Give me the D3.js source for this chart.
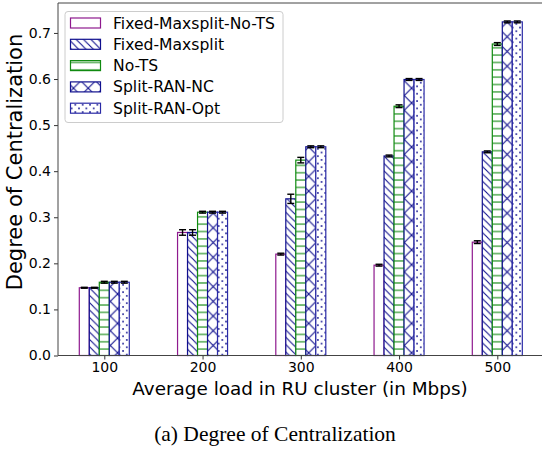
<!DOCTYPE html>
<html>
<head>
<meta charset="utf-8">
<script src="https://cdn.jsdelivr.net/npm/d3@7"></script>
<style>
  body { margin: 0; background: #fff; }
  svg { display: block; font-family: "DejaVu Sans", sans-serif; }
</style>
</head>
<body>
<svg id="chart" width="542" height="451"></svg>
<script>
// loads (Mbps) on the x axis
const categories = [100, 200, 300, 400, 500];
const seriesNames = ['Fixed-Maxsplit-No-TS', 'Fixed-Maxsplit', 'No-TS', 'Split-RAN-NC', 'Split-RAN-Opt'];

const fixedNoTS = [0.147, 0.267, 0.220, 0.196, 0.246];
const fixedMaxsplit = [0.147, 0.267, 0.340, 0.433, 0.442];
const noTS = [0.159, 0.311, 0.424, 0.541, 0.676];
const ranNC = [0.159, 0.311, 0.453, 0.599, 0.724];
const ranOpt = [0.159, 0.311, 0.453, 0.599, 0.724];

const fixedNoTSErr = [0.001, 0.006, 0.002, 0.002, 0.003];
const fixedMaxsplitErr = [0.001, 0.006, 0.010, 0.002, 0.002];
const noTSErr = [0.002, 0.002, 0.006, 0.003, 0.003];
const ranNCErr = [0.002, 0.002, 0.002, 0.002, 0.002];
const ranOptErr = [0.002, 0.002, 0.002, 0.002, 0.002];

const yTicks = [0, 0.1, 0.2, 0.3, 0.4, 0.5, 0.6, 0.7];

const seriesValues = [fixedNoTS, fixedMaxsplit, noTS, ranNC, ranOpt];
const seriesErrors = [fixedNoTSErr, fixedMaxsplitErr, noTSErr, ranNCErr, ranOptErr];
const edgeColors = ['#8e1a8e', '#10108e', '#108a10', '#10108e', '#2a2aa6'];
const hatches = ['none', 'back', 'horiz', 'cross', 'dots'];

const svg = d3.select('#chart');
const margin = { left: 58, top: 3, bottom: 355.5 };

// x positions: group centres at 104.3 (100) and 497.3 (500)
const xScale = d3.scaleLinear().domain([100, 500]).range([104.3, 497.3]);
const yScale = d3.scaleLinear().domain([0, 0.765]).range([margin.bottom, margin.top]);
const barW = 10;

// hatch patterns
const defs = svg.append('defs');
function makePattern(id, size, draw) {
  const p = defs.append('pattern')
    .attr('id', id)
    .attr('patternUnits', 'userSpaceOnUse')
    .attr('width', size).attr('height', size);
  p.append('rect').attr('width', size).attr('height', size).attr('fill', '#fff');
  draw(p, size);
}
makePattern('h-back', 7.35, (p, s) => {
  p.append('path').attr('d', `M0,0L${s},${s}M${-s/2},${s/2}L${s/2},${1.5*s}M${s/2},${-s/2}L${1.5*s},${s/2}`)
    .attr('stroke', edgeColors[1]).attr('stroke-width', 1.1);
});
makePattern('h-horiz', 7.35, (p, s) => {
  p.append('path').attr('d', `M0,${s/2}L${s},${s/2}`)
    .attr('stroke', edgeColors[2]).attr('stroke-width', 1.1);
});
makePattern('h-cross', 14.7, (p, s) => {
  p.append('path').attr('d', `M0,0L${s},${s}M${s},0L0,${s}`)
    .attr('stroke', edgeColors[3]).attr('stroke-width', 1.1);
});
makePattern('h-dots', 7.35, (p, s) => {
  p.append('circle').attr('cx', s * 0.25).attr('cy', s * 0.25).attr('r', 0.9).attr('fill', '#10108e');
  p.append('circle').attr('cx', s * 0.75).attr('cy', s * 0.75).attr('r', 0.9).attr('fill', '#10108e');
});
const fillFor = i => hatches[i] === 'none' ? '#fff' : `url(#h-${hatches[i]})`;

// bars
seriesValues.forEach((vals, i) => {
  svg.append('g').selectAll('rect')
    .data(categories.map((c, k) => ({ c, v: vals[k], e: seriesErrors[i][k] })))
    .enter().append('rect')
    .attr('x', d => xScale(d.c) + (i - 2.5) * barW)
    .attr('y', d => yScale(d.v))
    .attr('width', barW)
    .attr('height', d => yScale(0) - yScale(d.v))
    .attr('fill', fillFor(i))
    .attr('stroke', edgeColors[i])
    .attr('stroke-width', 1.2);
});

// error bars
seriesValues.forEach((vals, i) => {
  const g = svg.append('g').attr('stroke', '#000').attr('stroke-width', 1.4);
  categories.forEach((c, k) => {
    const cx = xScale(c) + (i - 2) * barW;
    const lo = yScale(vals[k] - seriesErrors[i][k]);
    const hi = yScale(vals[k] + seriesErrors[i][k]);
    g.append('line').attr('x1', cx).attr('x2', cx).attr('y1', lo).attr('y2', hi);
    g.append('line').attr('x1', cx - 3.5).attr('x2', cx + 3.5).attr('y1', lo).attr('y2', lo);
    g.append('line').attr('x1', cx - 3.5).attr('x2', cx + 3.5).attr('y1', hi).attr('y2', hi);
  });
});

// axes
const yAxis = svg.append('g')
  .attr('transform', `translate(${margin.left},0)`)
  .call(d3.axisLeft(yScale).tickValues(yTicks).tickFormat(d3.format('.1f')).tickSize(4).tickPadding(3));
yAxis.select('.domain').remove();
yAxis.selectAll('text').attr('font-size', 14).attr('fill', '#000').attr('font-family', 'DejaVu Sans');
yAxis.selectAll('line').attr('stroke', '#333');

const xAxis = svg.append('g')
  .attr('transform', `translate(0,${margin.bottom})`)
  .call(d3.axisBottom(xScale).tickValues(categories).tickFormat(d3.format('d')).tickSize(4).tickPadding(3));
xAxis.select('.domain').remove();
xAxis.selectAll('text').attr('font-size', 14).attr('fill', '#000').attr('font-family', 'DejaVu Sans');
xAxis.selectAll('line').attr('stroke', '#333');

// spines
svg.append('line').attr('x1', margin.left).attr('x2', 542).attr('y1', margin.bottom).attr('y2', margin.bottom)
  .attr('stroke', '#444').attr('stroke-width', 1);
svg.append('line').attr('x1', margin.left).attr('x2', 542).attr('y1', margin.top).attr('y2', margin.top)
  .attr('stroke', '#444').attr('stroke-width', 1);
svg.append('line').attr('x1', margin.left).attr('x2', margin.left).attr('y1', margin.top).attr('y2', margin.bottom)
  .attr('stroke', '#444').attr('stroke-width', 1);

// axis labels
svg.append('text')
  .attr('transform', 'translate(22,162) rotate(-90)')
  .attr('text-anchor', 'middle')
  .attr('font-size', 21)
  .text('Degree of Centralization');

svg.append('text')
  .attr('x', 300).attr('y', 395)
  .attr('text-anchor', 'middle')
  .attr('font-size', 18.4)
  .text('Average load in RU cluster (in Mbps)');

svg.append('text')
  .attr('x', 275).attr('y', 441)
  .attr('text-anchor', 'middle')
  .attr('font-family', '"Liberation Serif", serif')
  .attr('font-size', 21.5)
  .text('(a) Degree of Centralization');

// legend
const legend = svg.append('g');
legend.append('rect')
  .attr('x', 65).attr('y', 11.5).attr('width', 218).attr('height', 111)
  .attr('rx', 3)
  .attr('fill', '#fff').attr('fill-opacity', 0.85)
  .attr('stroke', '#ccc');
seriesNames.forEach((name, i) => {
  const cy = 23 + i * 21.3;
  legend.append('rect')
    .attr('x', 70.5).attr('y', cy - 5).attr('width', 30).attr('height', 10)
    .attr('fill', fillFor(i))
    .attr('stroke', edgeColors[i]).attr('stroke-width', 1.2);
  legend.append('text')
    .attr('x', 113).attr('y', cy + 5.5)
    .attr('font-size', 15.6)
    .text(name);
});
</script>
</body>
</html>
